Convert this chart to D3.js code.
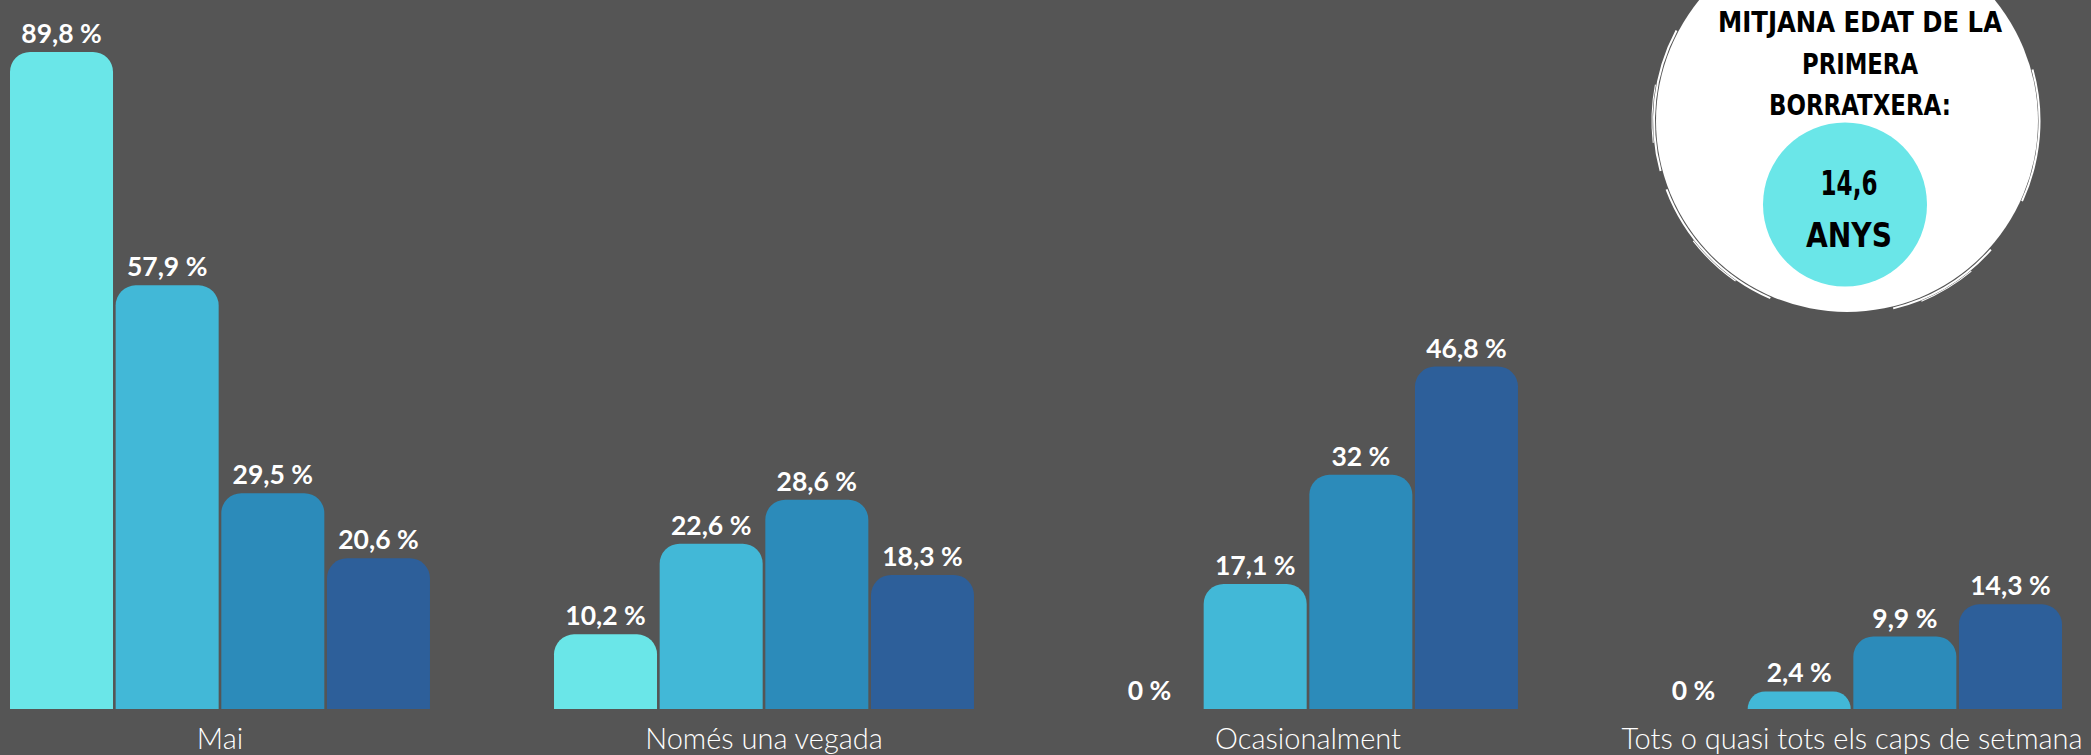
<!DOCTYPE html>
<html>
<head>
<meta charset="utf-8">
<script src="https://cdn.jsdelivr.net/npm/d3@7"></script>
<style>
  html, body { margin: 0; padding: 0; background: #555555; overflow: hidden; }
  svg { display: block; }
</style>
</head>
<body>
<script>
// ---- data ----
const categories = ["Mai", "Només una vegada", "Ocasionalment", "Tots o quasi tots els caps de setmana"];
const seriesNames = ["Grup 1", "Grup 2", "Grup 3", "Grup 4"];
const series1 = [89.8, 10.2, 0, 0];
const series2 = [57.9, 22.6, 17.1, 2.4];
const series3 = [29.5, 28.6, 32, 9.9];
const series4 = [20.6, 18.3, 46.8, 14.3];
const seriesColors = ["#6ae6e8", "#42b8d7", "#2c8bba", "#2d5f9a"];
const badgeTitle = ["MITJANA EDAT DE LA", "PRIMERA", "BORRATXERA:"];
const badgeValue = ["14,6", "ANYS"];

const W = 2091, H = 755;
const allSeries = [series1, series2, series3, series4];
const rows = [];
categories.forEach((c, ci) => {
  seriesNames.forEach((s, si) => rows.push({cat: c, ser: s, si, value: allSeries[si][ci]}));
});

const svg = d3.select("body").append("svg").attr("width", W).attr("height", H);
svg.append("rect").attr("width", W).attr("height", H).attr("fill", "#555555");

const baseY = 709;
const x0 = d3.scaleBand().domain(categories).range([10, 2062]).paddingInner(0.228).paddingOuter(0);
const x1 = d3.scaleBand().domain(seriesNames).range([0, x0.bandwidth()]).paddingInner(0.025).paddingOuter(0);
const y = d3.scaleLinear().domain([0, 96.9]).range([baseY, 0]);
const color = d3.scaleOrdinal().domain(seriesNames).range(seriesColors);

function topRounded(x, yTop, w, h, r) {
  r = Math.min(r, h, w / 2);
  const p = d3.path();
  p.moveTo(x, yTop + h);
  p.lineTo(x, yTop + r);
  p.arcTo(x, yTop, x + r, yTop, r);
  p.lineTo(x + w - r, yTop);
  p.arcTo(x + w, yTop, x + w, yTop + r, r);
  p.lineTo(x + w, yTop + h);
  p.closePath();
  return p.toString();
}

const g = svg.append("g");
g.selectAll("path.bar").data(rows.filter(d => d.value > 0)).join("path")
  .attr("class", "bar")
  .attr("fill", d => color(d.ser))
  .attr("d", d => {
    const bx = x0(d.cat) + x1(d.ser);
    const yt = y(d.value);
    return topRounded(bx, yt, x1.bandwidth(), baseY - yt, 20);
  });

const fmt = v => String(v).replace(".", ",") + " %";
g.selectAll("text.val").data(rows).join("text")
  .attr("class", "val")
  .attr("x", d => x0(d.cat) + x1(d.ser) + x1.bandwidth() / 2)
  .attr("y", d => Math.max(y(d.value) - 9, 32))
  .attr("text-anchor", "middle")
  .attr("fill", "#ffffff")
  .attr("font-family", "Lato, 'Noto Sans', sans-serif")
  .attr("font-weight", 700)
  .attr("font-size", 26.5)
  .text(d => fmt(d.value));

// category axis labels
const xAxis = d3.axisBottom(x0).tickSize(0).tickPadding(0);
const axG = svg.append("g").attr("transform", `translate(0,${baseY})`).call(xAxis);
axG.select(".domain").remove();
axG.selectAll("text")
  .attr("fill", "#ffffff")
  .attr("font-family", "Lato, 'Open Sans', sans-serif")
  .attr("font-weight", 300)
  .attr("font-size", 29)
  .attr("dy", 0)
  .attr("y", 40);

// ---- badge ----
const cx = 1847, cy = 121, R = 191;
const badge = svg.append("g");
badge.append("circle").attr("cx", cx).attr("cy", cy).attr("r", R).attr("fill", "#ffffff");
const arc = d3.arc();
const strokes = [
  {r: R + 2, a0: 3.55, a1: 4.35, w: 2},
  {r: R + 4, a0: 3.75, a1: 4.05, w: 1.2},
  {r: R + 2, a0: 4.45, a1: 5.2, w: 2},
  {r: R + 4, a0: 4.6, a1: 4.9, w: 1},
  {r: R + 2, a0: 2.3, a1: 2.9, w: 2},
  {r: R + 4, a0: 2.45, a1: 2.75, w: 1},
  {r: R + 1.5, a0: 1.3, a1: 2.0, w: 2},
  {r: R + 3, a0: 5.5, a1: 5.9, w: 1.2}
];
badge.selectAll("path.brush").data(strokes).join("path")
  .attr("class", "brush")
  .attr("transform", `translate(${cx},${cy})`)
  .attr("fill", "#ffffff")
  .attr("d", d => arc({innerRadius: d.r - d.w / 2, outerRadius: d.r + d.w / 2, startAngle: d.a0, endAngle: d.a1}));

badge.append("circle").attr("cx", 1845).attr("cy", 204.5).attr("r", 82).attr("fill", "#6ae6e8");

const handFont = "'DejaVu Sans Condensed', 'Liberation Sans Narrow', sans-serif";
const titleWidths = [284, 116, 182];
badge.selectAll("text.title").data(badgeTitle).join("text")
  .attr("class", "title")
  .attr("x", 1860)
  .attr("y", (d, i) => 32 + i * 41.5)
  .attr("text-anchor", "middle")
  .attr("font-family", handFont)
  .attr("font-weight", 700)
  .attr("font-size", 29)
  .attr("fill", "#000000")
  .attr("textLength", (d, i) => titleWidths[i])
  .attr("lengthAdjust", "spacingAndGlyphs")
  .text(d => d);

const valWidths = [57, 86];
badge.selectAll("text.bv").data(badgeValue).join("text")
  .attr("class", "bv")
  .attr("x", 1849)
  .attr("y", (d, i) => 195 + i * 52)
  .attr("text-anchor", "middle")
  .attr("font-family", handFont)
  .attr("font-weight", 700)
  .attr("font-size", 34)
  .attr("fill", "#000000")
  .attr("textLength", (d, i) => valWidths[i])
  .attr("lengthAdjust", "spacingAndGlyphs")
  .text(d => d);
</script>
</body>
</html>
